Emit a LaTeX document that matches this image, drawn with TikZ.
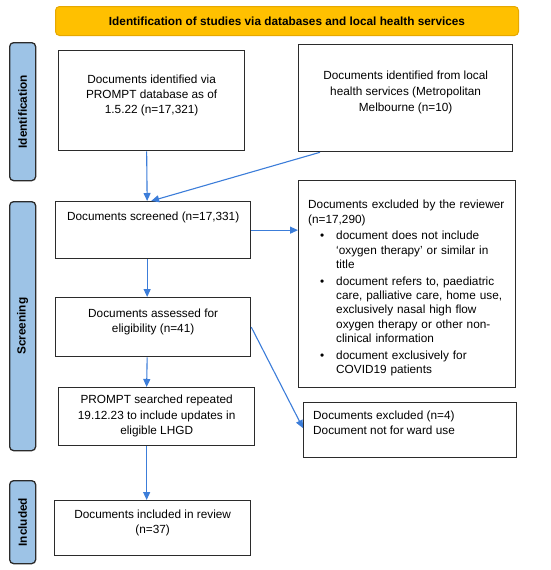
\documentclass[tikz,border=0pt]{standalone}
\usepackage{fontspec}
\setmainfont{Liberation Sans}
\usetikzlibrary{arrows.meta}
\definecolor{arrowblue}{HTML}{3C7DD9}
\definecolor{labelblue}{HTML}{9DC3E6}
\definecolor{bannerfill}{HTML}{FFC000}
\definecolor{bannerline}{HTML}{E6A800}
\definecolor{boxline}{HTML}{2B2B2B}
\newcommand{\bitem}[1]{\par\vspace{2.5pt}\hangindent=28pt\hangafter=0\noindent\llap{\makebox[16pt][l]{\textbullet}}#1}
\begin{document}
\begin{tikzpicture}[x=1pt,y=-1pt,
  box/.style={draw=boxline, line width=1.3pt, anchor=north west, inner sep=0pt},
  txt/.style={anchor=north, align=center, inner sep=0pt, font=\fontsize{11.8}{15}\selectfont},
  ltxt/.style={anchor=north west, align=left, inner sep=0pt, font=\fontsize{11.8}{14.3}\selectfont},
  side/.style={draw=boxline, fill=labelblue, rounded corners=4pt, line width=1.3pt, anchor=north west, inner sep=0pt, minimum width=26pt},
  sidetxt/.style={rotate=90, font=\fontsize{11.8}{14}\selectfont\bfseries, inner sep=0pt},
  flow/.style={draw=arrowblue, line width=1.1pt, -{Triangle[length=8pt,width=7pt]}}]
\useasboundingbox (0,0) rectangle (550,570);

% banner
\node[anchor=north west, draw=bannerline, fill=bannerfill, rounded corners=4pt, line width=1pt,
  minimum width=463pt, minimum height=29pt, inner sep=0pt,
  font=\fontsize{11.8}{14}\selectfont\bfseries] (banner) at (55,6)
  {Identification of studies via databases and local health services};

% side labels
\node[side, minimum height=138pt] (sid) at (9,42) {};
\node[sidetxt] (sidt) at (sid.center) {Identification};
\node[side, minimum height=249pt] (sscr) at (9,201) {};
\node[sidetxt] (sscrt) at (sscr.center) {Screening};
\node[side, minimum height=83pt] (sinc) at (9,480) {};
\node[sidetxt] (sinct) at (sinc.center) {Included};

% boxes
\node[box, minimum width=186pt, minimum height=100pt] (b1) at (58,50) {};
\node[txt] (b1t) at ([yshift=-25pt]b1.north) {Documents identified via\\PROMPT database as of\\1.5.22 (n=17,321)};

\node[box, minimum width=214pt, minimum height=107pt] (b2) at (298,44) {};
\node[txt, font=\fontsize{11.8}{16}\selectfont] (b2t) at ([yshift=-27pt]b2.north) {Documents identified from local\\health services (Metropolitan\\Melbourne (n=10)};

\node[box, minimum width=195pt, minimum height=57pt] (scr) at (55,201) {};
\node[txt] (scrt) at ([yshift=-11pt]scr.north) {Documents screened (n=17,331)};

\node[box, minimum width=217pt, minimum height=207pt] (ex1) at (298,180) {};
\node[ltxt, text width=205pt] (ex1t) at ([xshift=10pt,yshift=-20pt]ex1.north west) {\raggedright
Documents excluded by the reviewer\newline (n=17,290)
\bitem{document does not include\newline `oxygen therapy' or similar in\newline title}
\bitem{document refers to, paediatric\newline care, palliative care, home use,\newline exclusively nasal high flow\newline oxygen therapy or other non-\newline clinical information}
\bitem{document exclusively for\newline COVID19 patients}\par};

\node[box, minimum width=195pt, minimum height=59pt] (as) at (55,297) {};
\node[txt] (ast) at ([yshift=-12pt]as.north) {Documents assessed for\\eligibility (n=41)};

\node[box, minimum width=196pt, minimum height=58pt] (ps) at (58,387) {};
\node[txt, font=\fontsize{11.8}{15.5}\selectfont] (pst) at ([yshift=-8pt]ps.north) {PROMPT searched repeated\\19.12.23 to include updates in\\eligible LHGD};

\node[box, minimum width=213pt, minimum height=55pt] (ex2) at (303,402) {};
\node[ltxt] (ex2t) at ([xshift=10pt,yshift=-9pt]ex2.north west) {Documents excluded (n=4)\\Document not for ward use};

\node[box, minimum width=196pt, minimum height=55pt] (inc) at (54,500) {};
\node[txt] (inct) at ([yshift=-10pt]inc.north) {Documents included in review\\(n=37)};

% connectors
\draw[flow] ([xshift=-5pt]b1.south) -- ([xshift=-6pt]scr.north);
\draw[flow] ([xshift=22pt]b2.south west) -- ([xshift=-2pt]scr.north);
\draw[flow] (scr.east) -- (scr.east -| ex1.west);
\draw[flow] ([xshift=-6pt]scr.south) -- ([xshift=-6pt]as.north);
\draw[flow] (as.east) -- ([yshift=2pt]ex2.west);
\draw[flow] ([xshift=-6pt]as.south) -- ([xshift=-10pt]ps.north);
\draw[flow] ([xshift=-10pt]ps.south) -- ([xshift=-6pt]inc.north);
\end{tikzpicture}
\end{document}
